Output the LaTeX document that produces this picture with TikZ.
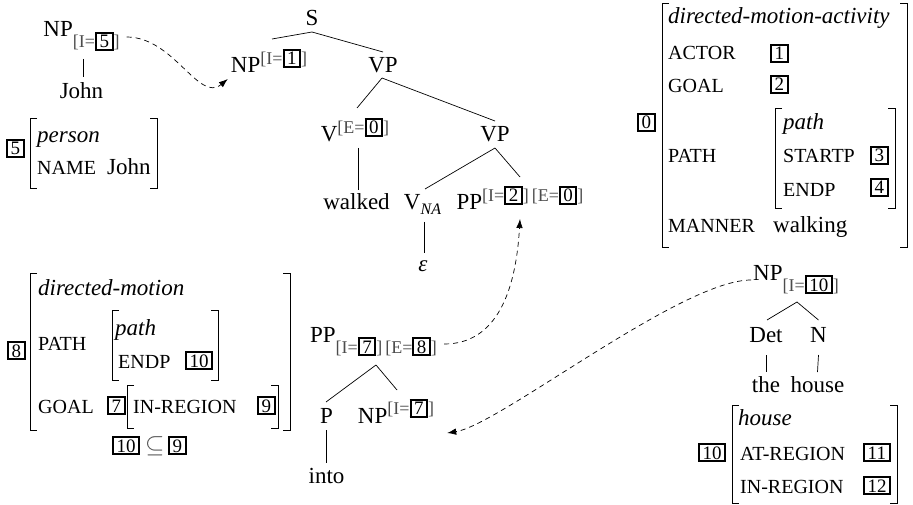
\documentclass[tikz,border=0pt]{standalone}
\usepackage{fontspec}
\setmainfont{Liberation Serif}
\usetikzlibrary{calc,arrows.meta}

% boxed tag (coreference index)
\newcommand\fbx[1]{{\color{black}\setlength\fboxrule{2pt}\setlength\fboxsep{1.1pt}\fbox{\kern1.4pt\fontsize{19}{19}\selectfont #1\kern1.4pt}}}
% small feature annotation [F=tag]
\newcommand\featr[1]{{\color{black!70}\fontsize{18}{18}\selectfont[#1]}}
\newcommand\lowf[1]{\raisebox{-11pt}{\featr{#1}}}
\newcommand\highf[1]{\raisebox{8.5pt}{\featr{#1}}}
% square brackets of an attribute-value matrix: left x, right x, top y, bottom y
\newcommand\avmbr[4]{%
  \draw[brk] (#1+7,#3) -- (#1,#3) -- (#1,#4) -- (#1+7,#4);
  \draw[brk] (#2-7,#3) -- (#2,#3) -- (#2,#4) -- (#2-7,#4);}

\begin{document}
\begin{tikzpicture}[x=1pt,y=-1pt,
  every node/.style={inner sep=0pt, font=\fontsize{23}{27}\selectfont},
  tn/.style={anchor=base},
  av/.style={anchor=base west},
  attr/.style={anchor=base west, font=\fontsize{20}{24}\selectfont},
  branch/.style={line width=0.7pt},
  link/.style={line width=0.7pt, dash pattern=on 5pt off 4pt,
               -{Latex[length=9pt,width=6.5pt]}},
  brk/.style={line width=0.9pt}]
\useasboundingbox (0,0) rectangle (913,505);

% ---- person
\node[av] at (6,155) {\fbx{5}};
\avmbr{30}{157}{118}{188}
\node[av] at (37,143) {\itshape person};
\node[attr] at (37,175) {NAME};
\node[av] at (107,175) {John};

% ---- directed-motion-activity
\node[av] at (637,129) {\fbx{0}};
\avmbr{662}{907}{3}{247}
\node[av] at (668,24) {\itshape directed-motion-activity};
\node[attr] at (668,60) {ACTOR};  \node[av] at (770,60) {\fbx{1}};
\node[attr] at (668,93) {GOAL};   \node[av] at (770,91) {\fbx{2}};
\node[attr] at (668,163) {PATH};
\avmbr{775}{895}{108}{208}
\node[av] at (783,130) {\itshape path};
\node[attr] at (783,163) {STARTP}; \node[av] at (870,162) {\fbx{3}};
\node[attr] at (783,197) {ENDP};   \node[av] at (870,194) {\fbx{4}};
\node[attr] at (668,233) {MANNER}; \node[av] at (773,233) {walking};

% ---- directed-motion
\node[av] at (7,357) {\fbx{8}};
\avmbr{30}{290}{273}{430}
\node[av] at (38,295) {\itshape directed-motion};
\node[attr] at (38,350) {PATH};
\avmbr{112}{218}{310}{380}
\node[av] at (115,335) {\itshape path};
\node[attr] at (118,368) {ENDP}; \node[av] at (185,367) {\fbx{10}};
\node[attr] at (38,413) {GOAL};  \node[av] at (107,412) {\fbx{7}};
\avmbr{127}{278}{385}{428}
\node[attr] at (133,413) {IN-REGION}; \node[av] at (257,412) {\fbx{9}};
\node[av] at (112,452) {\fbx{10}};
\node[av] at (145,452) {\color{black!70}$\subseteq$};
\node[av] at (168,452) {\fbx{9}};

% ---- house
\node[av] at (698,459) {\fbx{10}};
\avmbr{732}{897}{405}{503}
\node[av] at (738,425) {\itshape house};
\node[attr] at (740,460) {AT-REGION}; \node[av] at (863,459) {\fbx{11}};
\node[attr] at (740,493) {IN-REGION}; \node[av] at (863,492) {\fbx{12}};

% ---- trees
\node[tn] (np5) at (81.5,37) {NP\lowf{I=\fbx{5}}};
\node[tn] (john) at (81.5,99) {John};

\node[tn] (s) at (312,26) {S};
\node[tn] (np1) at (269,73) {NP\highf{I=\fbx{1}}};
\node[tn] (vp1) at (383,73) {VP};
\node[tn] (v0) at (355,142) {V\highf{E=\fbx{0}}};
\node[tn] (vp2) at (495,142) {VP};
\node[tn] (walked) at (356.5,210) {walked};
\node[tn] (vna) at (422.5,210) {V\raisebox{-5pt}{\fontsize{16}{16}\selectfont\itshape NA}};
\node[tn] (pp2) at (520,210) {PP\highf{I=\fbx{2}}\kern3pt\highf{E=\fbx{0}}};
\node[tn] (eps) at (423,272) {\itshape ε};

\node[tn] (pp8) at (373.5,342) {PP\lowf{I=\fbx{7}}\kern3pt\lowf{E=\fbx{8}}};
\node[tn] (p) at (326.5,423) {P};
\node[tn] (np7) at (396,423) {NP\highf{I=\fbx{7}}};
\node[tn] (into) at (326.5,483) {into};

\node[tn] (np10) at (796,280) {NP\lowf{I=\fbx{10}}};
\node[tn] (det) at (766,342) {Det};
\node[tn] (n) at (818.5,342) {N};
\node[tn] (the) at (766,392) {the};
\node[tn] (house) at (817.5,392) {house};

% branches
\draw[branch] ($(np5.base)+(1.5,22)$) -- ($(john.base)+(1.5,-22)$);
\draw[branch] ($(s.base)+(0,6)$) -- ($(np1.base)+(3,-34)$);
\draw[branch] ($(s.base)+(0,6)$) -- ($(vp1.base)+(0,-21)$);
\draw[branch] ($(vp1.base)+(-1,5)$) -- ($(v0.base)+(2,-34)$);
\draw[branch] ($(vp1.base)+(-1,5)$) -- ($(vp2.base)+(0,-21)$);
\draw[branch] ($(v0.base)+(3,6)$) -- ($(walked.base)+(1.5,-20)$);
\draw[branch] ($(vp2.base)+(0,6)$) -- ($(vna.base)+(2.5,-21)$);
\draw[branch] ($(vp2.base)+(0,6)$) -- ($(pp2.base)+(0,-33)$);
\draw[branch] ($(vna.base)+(1.5,12)$) -- ($(eps.base)+(1,-19)$);
\draw[branch] ($(pp8.base)+(2.5,23)$) -- ($(p.base)+(-0.5,-21)$);
\draw[branch] ($(pp8.base)+(2.5,23)$) -- ($(np7.base)+(1,-33)$);
\draw[branch] ($(p.base)+(0,7)$) -- ($(into.base)+(0,-20)$);
\draw[branch] ($(np10.base)+(1,22)$) -- ($(det.base)+(1,-22)$);
\draw[branch] ($(np10.base)+(1,22)$) -- ($(n.base)+(0,-22)$);
\draw[branch] ($(det.base)+(0,13)$) -- ($(the.base)+(0,-20)$);
\draw[branch] ($(n.base)+(0,13)$) -- ($(house.base)+(0,-20)$);

% coreference links
\draw[link] ($(np5.base east)+(7,0)$) .. controls +(47,0) and +(-29,24) .. ($(np1.base west)+(-3,6)$);
\draw[link] ($(pp8.base east)+(7,2)$) .. controls +(53,0) and +(-4,71) .. ($(pp2.base)+(0,9)$);
\draw[link] ($(np10.base west)+(-2,0)$) .. controls +(-70,0) and +(52,-8) .. ($(np7.base east)+(13,10)$);
\end{tikzpicture}
\end{document}
